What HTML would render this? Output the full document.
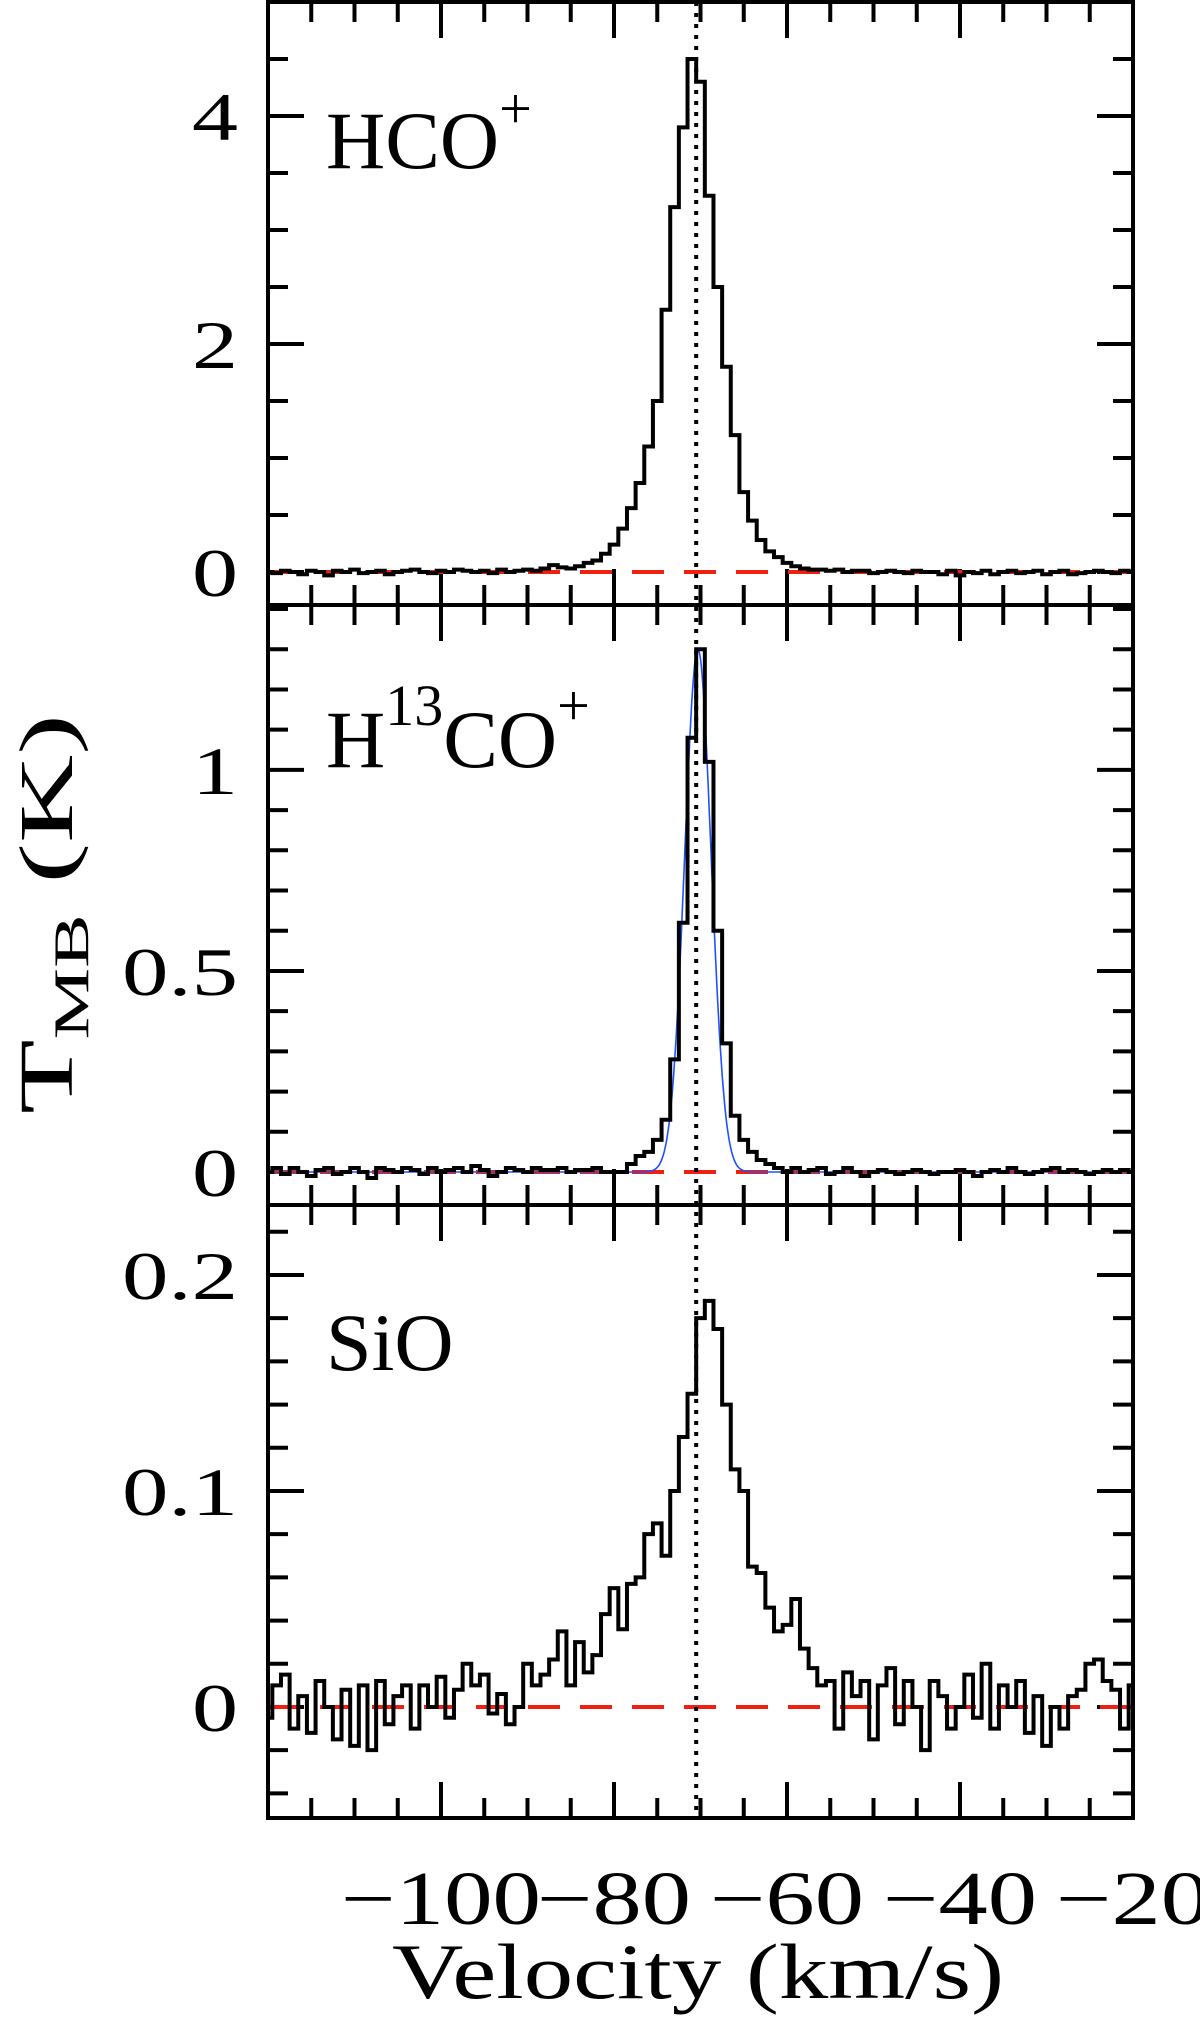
<!DOCTYPE html>
<html><head><meta charset="utf-8"><style>
html,body{margin:0;padding:0;background:#fff;}
svg{display:block;font-family:"Liberation Serif",serif;}
</style></head><body>
<svg id="chart" width="1200" height="2019" viewBox="0 0 1200 2019" xmlns="http://www.w3.org/2000/svg"></svg>
<script>
// velocity channels -120..-20, 1 km/s
const velStart = -120, velStep = 1;
const hcoValues = [0.0,-0.01,0.01,0.0,-0.02,0.01,0.0,-0.03,0.01,0.0,0.02,-0.01,0.0,0.01,-0.02,0.0,0.01,0.02,0.0,-0.01,0.01,0.0,0.02,0.01,0.0,0.01,-0.01,0.02,0.0,0.01,0.02,
0.01,0.03,0.06,0.04,0.03,0.05,0.08,0.1,0.16,0.24,0.38,0.56,0.78,1.1,1.5,2.3,3.2,3.9,4.5,4.3,3.3,2.5,1.8,1.2,0.7,0.45,0.28,0.18,0.13,0.08,0.05,0.03,0.02,0.02,
0.01,0.02,0.0,0.01,0.01,-0.01,0.0,0.01,0.0,-0.01,0.01,0.0,0.0,-0.02,0.01,-0.03,0.0,-0.01,0.01,-0.02,0.0,0.01,-0.01,0.0,0.01,-0.02,0.0,0.01,-0.02,-0.01,0.0,0.01,0.0,-0.01,0.01,0.0];
const h13coValues = [0.0,0.01,-0.005,0.01,0.0,-0.01,0.005,0.01,-0.005,0.0,0.01,0.0,-0.015,0.01,0.005,0.0,0.01,0.005,-0.005,0.01,0.0,0.005,0.01,0.0,0.015,0.005,-0.01,0.0,0.01,0.005,0.0,0.01,0.005,0.005,0.01,0.0,0.005,0.005,0.01,0.0,0.0,0.0,
0.02,0.04,0.05,0.08,0.13,0.28,0.62,1.08,1.3,1.02,0.6,0.32,0.14,0.08,0.05,0.03,0.02,
0.01,0.0,0.01,0.0,0.005,0.01,-0.005,0.0,0.01,0.0,-0.01,0.0,0.005,0.0,-0.005,0.0,0.005,0.0,-0.005,0.0,0.0,0.005,0.0,-0.01,0.0,0.005,0.0,0.01,0.0,-0.005,0.0,0.005,0.01,0.0,0.005,0.0,-0.005,0.0,0.005,0.0,0.005,0.0];
const sioValues = [-0.005,0.01,0.015,-0.01,0.005,-0.012,0.012,0.0,-0.015,0.008,-0.018,0.01,-0.02,0.012,-0.008,0.005,0.01,-0.01,0.01,0.0,0.014,-0.005,0.008,0.02,0.01,0.015,-0.003,0.006,-0.008,0.0,
0.02,0.01,0.015,0.022,0.035,0.01,0.03,0.016,0.024,0.043,0.055,0.036,0.057,0.06,0.08,0.085,0.07,0.1,0.125,0.145,0.18,0.188,0.175,0.14,0.11,0.1,0.065,0.062,0.046,0.035,0.038,0.05,0.027,0.018,0.01,0.012,-0.01,0.016,
0.005,0.012,-0.015,0.01,0.018,-0.008,0.012,0.0,-0.02,0.012,0.005,-0.01,0.0,0.015,-0.005,0.02,-0.01,0.01,0.0,0.012,-0.012,0.005,-0.018,0.0,-0.01,0.005,0.008,0.02,0.022,0.012,0.008,-0.01,0.01];
const fitAmp = 1.3, fitCenter = -70.3, fitFwhm = 3.6;
const vlsr = -70.5;
const xTickLabels = [-100,-80,-60,-40,-20];
const panelNames = ["hco","h13co","sio"];
const yTicks1 = [0,2,4], yTicks2 = [0,0.5,1], yTicks3 = [0,0.1,0.2];

const svg = document.getElementById('chart');
const NS = "http://www.w3.org/2000/svg";
const L = 268, R = 1133, XMIN = -120, XMAX = -20;
const sx = v => L + (v - XMIN) / (XMAX - XMIN) * (R - L);
const panels = [
 {top:2, bot:605, ymin:-0.29, ymax:5.0, vals:hcoValues, ticks:yTicks1, minor:0.5, labels:["0","2","4"]},
 {top:605, bot:1205, ymin:-0.082, ymax:1.41, vals:h13coValues, ticks:yTicks2, minor:0.1, labels:["0","0.5","1"]},
 {top:1205, bot:1818, ymin:-0.0514, ymax:0.2324, vals:sioValues, ticks:yTicks3, minor:0.02, labels:["0","0.1","0.2"]}
];
function mk(tag, attrs, parent){const e=document.createElementNS(NS,tag);for(const k in attrs)e.setAttribute(k,attrs[k]);(parent||svg).appendChild(e);return e;}
function labLen(s){let w=0;for(const c of s){w+= c==='.'?24:(c==='\u2212'?62:46);}return w;}

panels.forEach((p,i)=>{
  const g = mk('g',{});
  
  
  const sy = v => p.bot - (v - p.ymin)/(p.ymax - p.ymin)*(p.bot - p.top);
  let tk = '';
  for(let v=XMIN; v<=XMAX+0.01; v+=5){
    const len = (v%20===0)?36:20; const x=sx(v);
    tk += `M${x} ${p.bot}v${-len}M${x} ${p.top}v${len}`;
  }
  const n0 = Math.ceil(p.ymin/p.minor-1e-6), n1 = Math.floor(p.ymax/p.minor+1e-6);
  for(let k=n0;k<=n1;k++){
    const v=k*p.minor; const isMaj = p.ticks.some(t=>Math.abs(t-v)<1e-9);
    const len = isMaj?36:20; const y=sy(v);
    tk += `M${L} ${y}h${len}M${R} ${y}h${-len}`;
  }
  const ticks = mk('path',{d:tk,stroke:'#000','stroke-width':4,fill:'none'},g);
  
  
  p.ticks.forEach((t,j)=>{
    const s = p.labels[j];
    const tl = mk('text',{x:238,y:sy(t)+24,'font-size':68,'text-anchor':'end',fill:'#000',textLength:labLen(s),lengthAdjust:'spacingAndGlyphs'},g);
    tl.textContent = s;
    
    
  });
  const base = mk('line',{x1:L,x2:R,y1:sy(0),y2:sy(0),stroke:'#f02010','stroke-width':4,'stroke-dasharray':'32 20'},g);
  
  
  if(i===1){
    let d=''; const sig=fitFwhm/2.3548;
    for(let v=XMIN; v<=XMAX; v+=0.1){const y=fitAmp*Math.exp(-0.5*((v-fitCenter)/sig)**2); d+=(d?'L':'M')+sx(v).toFixed(1)+' '+sy(y).toFixed(1);}
    const fit = mk('path',{d:d,stroke:'#2050ff','stroke-width':1.6,fill:'none'},g);
    
    
  }
  let d='';
  p.vals.forEach((val,k)=>{
    const v = velStart + k*velStep;
    if(v > XMAX) return;
    const x0 = sx(Math.max(XMIN, v-velStep/2)), x1 = sx(Math.min(XMAX, v+velStep/2)), y=sy(val);
    d += (d===''?`M${x0} ${y}`:`L${x0} ${y}`) + `L${x1} ${y}`;
  });
  const sp = mk('path',{d:d,stroke:'#000','stroke-width':4,fill:'none','stroke-linejoin':'miter'},g);
  
  
  const fr = mk('rect',{x:L,y:p.top,width:R-L,height:p.bot-p.top,fill:'none',stroke:'#000','stroke-width':4},g);
  
  
});
const vl = mk('line',{x1:sx(vlsr),x2:sx(vlsr),y1:2,y2:1818,stroke:'#000','stroke-width':4,'stroke-dasharray':'4 7'});


xTickLabels.forEach(t=>{
  const s = '\u2212'+Math.abs(t);
  const tl = mk('text',{x:sx(t),y:1924,'font-size':76,'text-anchor':'middle',fill:'#000',textLength:labLen(s),lengthAdjust:'spacingAndGlyphs'});
  tl.textContent = s;
  
  
});
</script>
<svg style="position:absolute;left:0;top:0" width="1200" height="2019">
  <text x="326" y="168" font-family="Liberation Serif,serif" font-size="82">HCO<tspan dy="-40" font-size="58">+</tspan></text>
  <text x="326" y="767" font-family="Liberation Serif,serif" font-size="82">H<tspan dy="-42" font-size="58">13</tspan><tspan dy="42">CO</tspan><tspan dy="-42" font-size="58">+</tspan></text>
  <text x="326" y="1370" font-family="Liberation Serif,serif" font-size="82">SiO</text>
  <text x="392" y="1998" textLength="612" lengthAdjust="spacingAndGlyphs" font-family="Liberation Serif,serif" font-size="78">Velocity (km/s)</text>
  <text transform="translate(72,914) rotate(-90)" x="-200" textLength="400" lengthAdjust="spacingAndGlyphs" font-family="Liberation Serif,serif" font-size="76">T<tspan dy="16" font-size="50">MB</tspan><tspan dy="-16"> (K)</tspan></text>
</svg>
</body></html>
